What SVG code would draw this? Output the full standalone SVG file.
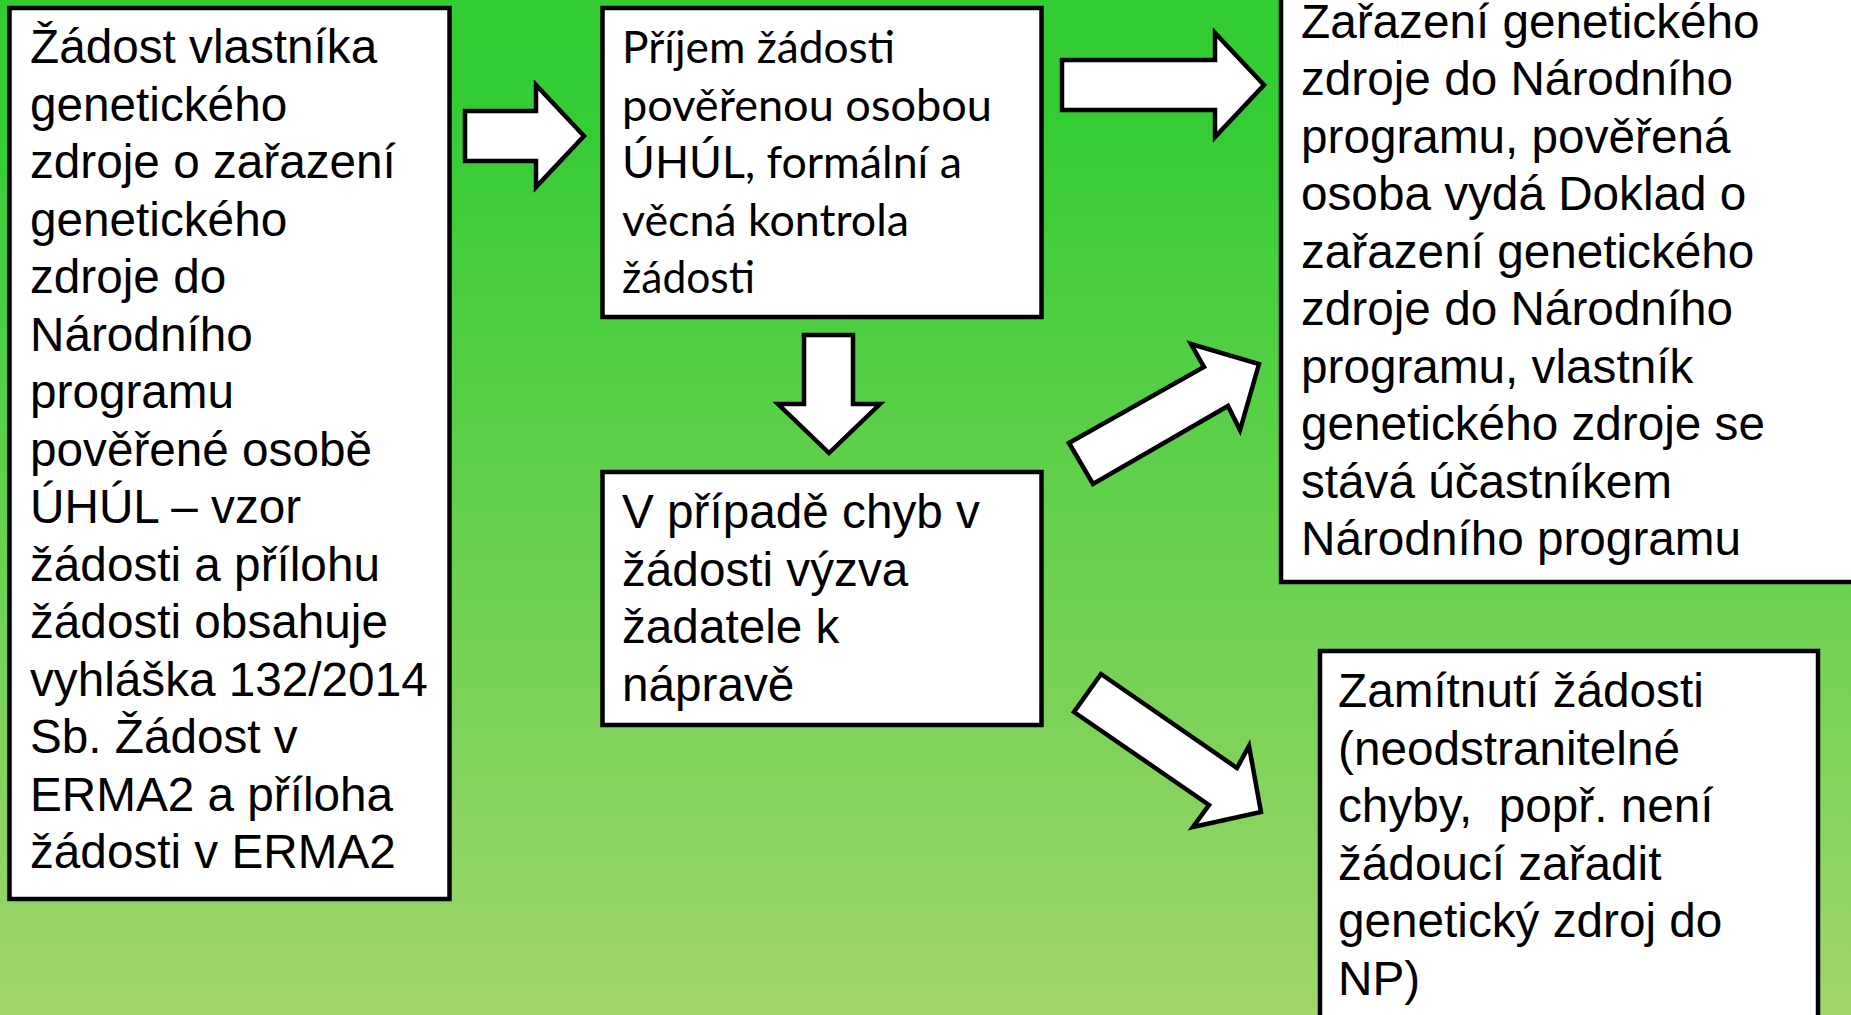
<svg xmlns="http://www.w3.org/2000/svg" width="1851" height="1015" viewBox="0 0 1851 1015">
<defs>
<linearGradient id="bg" x1="0" y1="0" x2="0" y2="1">
<stop offset="0" stop-color="#33cc33"/>
<stop offset="0.12" stop-color="#35cc35"/>
<stop offset="1" stop-color="#a0d66a"/>
</linearGradient>
<style>
.box{fill:#ffffff;stroke:#000000;stroke-width:4.5}
.arr{fill:#ffffff;stroke:#000000;stroke-width:4.5;stroke-linejoin:miter}
.t{font-family:"Liberation Sans",Arial,sans-serif;font-size:47.7px;fill:#000000}
.g{font-family:Lato,"Open Sans",sans-serif;font-size:45px;fill:#000000}
</style>
</defs>
<rect x="0" y="0" width="1851" height="1015" fill="url(#bg)"/>
<g id="connectors">
<polygon class="arr" points="465,111 536,111 536,85 584,136 536,187 536,161 465,161"/>
<polygon class="arr" points="1062,60 1215,60 1215,33 1264,85 1215,137 1215,110 1062,110"/>
<polygon class="arr" points="804,335 853,335 853,404 880,404 829,453 778,404 804,404"/>
<polygon class="arr" points="1069,443 1204,367 1191,344 1259,364 1240,430 1228,406 1093,484"/>
<polygon class="arr" points="1101,674 1237,768 1249,746 1261,812 1193,827 1209,805 1074,712"/>
</g>
<g id="n1">
<rect class="box" x="9.5" y="8" width="440" height="891"/>
<text class="t" x="30" y="63">Žádost vlastníka</text>
<text class="t" x="30" y="120.5">genetického</text>
<text class="t" x="30" y="178">zdroje o zařazení</text>
<text class="t" x="30" y="235.5">genetického</text>
<text class="t" x="30" y="293">zdroje do</text>
<text class="t" x="30" y="350.5">Národního</text>
<text class="t" x="30" y="408">programu</text>
<text class="t" x="30" y="465.5">pověřené osobě</text>
<text class="t" x="30" y="523">ÚHÚL – vzor</text>
<text class="t" x="30" y="580.5">žádosti a přílohu</text>
<text class="t" x="30" y="638">žádosti obsahuje</text>
<text class="t" x="30" y="695.5">vyhláška 132/2014</text>
<text class="t" x="30" y="753">Sb. Žádost v</text>
<text class="t" x="30" y="810.5">ERMA2 a příloha</text>
<text class="t" x="30" y="868">žádosti v ERMA2</text>
</g>
<g id="n2">
<rect class="box" x="602.5" y="8" width="439" height="309"/>
<text class="g" x="622" y="63" textLength="273" lengthAdjust="spacingAndGlyphs">Příjem žádosti</text>
<text class="g" x="622" y="120.5" textLength="370" lengthAdjust="spacingAndGlyphs">pověřenou osobou</text>
<text class="g" x="622" y="178" textLength="340" lengthAdjust="spacingAndGlyphs">ÚHÚL, formální a</text>
<text class="g" x="622" y="235.5" textLength="287" lengthAdjust="spacingAndGlyphs">věcná kontrola</text>
<text class="g" x="622" y="293" textLength="133" lengthAdjust="spacingAndGlyphs">žádosti</text>
</g>
<g id="n3">
<rect class="box" x="602.5" y="472" width="439" height="253"/>
<text class="t" x="622" y="528">V případě chyb v</text>
<text class="t" x="622" y="585.5">žádosti výzva</text>
<text class="t" x="622" y="643">žadatele k</text>
<text class="t" x="622" y="700.5">nápravě</text>
</g>
<g id="n4">
<rect class="box" x="1281" y="-20" width="600" height="602"/>
<text class="t" x="1301" y="37.5">Zařazení genetického</text>
<text class="t" x="1301" y="95">zdroje do Národního</text>
<text class="t" x="1301" y="152.5">programu, pověřená</text>
<text class="t" x="1301" y="210">osoba vydá Doklad o</text>
<text class="t" x="1301" y="267.5">zařazení genetického</text>
<text class="t" x="1301" y="325">zdroje do Národního</text>
<text class="t" x="1301" y="382.5">programu, vlastník</text>
<text class="t" x="1301" y="440">genetického zdroje se</text>
<text class="t" x="1301" y="497.5">stává účastníkem</text>
<text class="t" x="1301" y="555">Národního programu</text>
</g>
<g id="n5">
<rect class="box" x="1320" y="651" width="498" height="400"/>
<text class="t" x="1338" y="707">Zamítnutí žádosti</text>
<text class="t" x="1338" y="764.5">(neodstranitelné</text>
<text class="t" x="1338" y="822" xml:space="preserve">chyby,  popř. není</text>
<text class="t" x="1338" y="879.5">žádoucí zařadit</text>
<text class="t" x="1338" y="937">genetický zdroj do</text>
<text class="t" x="1338" y="994.5">NP)</text>
</g>
</svg>
